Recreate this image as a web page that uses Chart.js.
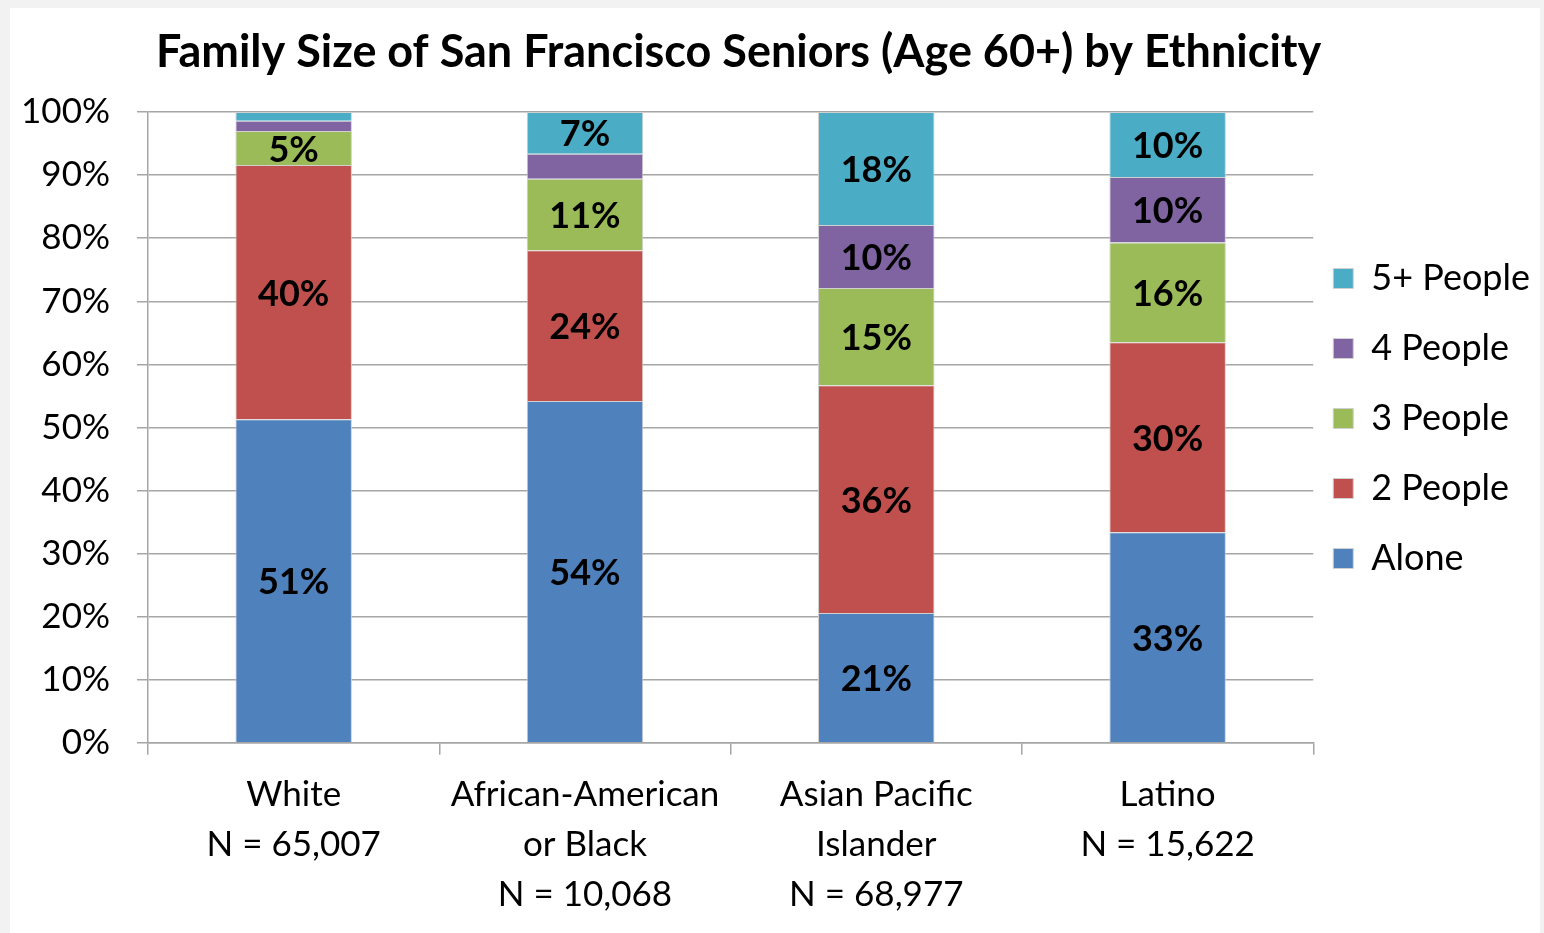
<!DOCTYPE html>
<html>
<head>
<meta charset="utf-8">
<script src="https://cdn.jsdelivr.net/npm/chart.js@4"></script>
<style>
  html, body { margin: 0; padding: 0; background: #f2f2f2; }
  #box { position: absolute; left: 10px; top: 8px; width: 1530px; height: 925px; background: #fff; }
</style>
</head>
<body>
<div id="box"><canvas id="chart" width="1530" height="925"></canvas></div>
<script>
// categories (x axis, multi-line)
const categories = [
  ["White", "N = 65,007"],
  ["African-American", "or Black", "N = 10,068"],
  ["Asian Pacific", "Islander", "N = 68,977"],
  ["Latino", "N = 15,622"]
];

// percentages per family size
const alone       = [51.3, 54.2, 20.6, 33.4];
const twoPeople   = [40.3, 23.9, 36.1, 30.1];
const threePeople = [5.4, 11.3, 15.4, 15.8];
const fourPeople  = [1.6, 4.0, 10.0, 10.4];
const fivePlus    = [1.4, 6.6, 17.9, 10.3];

const seriesNames = ["Alone", "2 People", "3 People", "4 People", "5+ People"];
const seriesColors = ["#4f81bd", "#c0504d", "#9bbb59", "#8064a2", "#4bacc6"];
const yTicks = [0, 10, 20, 30, 40, 50, 60, 70, 80, 90, 100];

const FONT = "Lato";

// draws the rounded % inside each segment (Excel hides the tiny ones)
const segmentLabels = {
  id: "segmentLabels",
  afterDatasetsDraw(chart) {
    const ctx = chart.ctx;
    ctx.save();
    ctx.font = "bold 36px " + FONT;
    ctx.fillStyle = "#000";
    ctx.textAlign = "center";
    ctx.textBaseline = "middle";
    chart.data.datasets.forEach((ds, i) => {
      chart.getDatasetMeta(i).data.forEach((bar, j) => {
        const v = ds.data[j];
        if (v < 5) return;
        ctx.fillText(Math.round(v) + "%", bar.x, (bar.y + bar.base) / 2 + 2);
      });
    });
    ctx.restore();
  }
};

// Excel puts the legend a bit closer to the plot and higher up,
// and the title slightly right of the plot centre
const boxNudge = {
  id: "boxNudge",
  afterLayout(chart) {
    const lg = chart.legend;
    lg.left -= 14; lg.right -= 14;
    lg.top -= 53; lg.bottom -= 53;
    const t = chart.titleBlock;
    t.left += 8; t.right += 8;
  }
};

const allSeries = [alone, twoPeople, threePeople, fourPeople, fivePlus];

new Chart(document.getElementById("chart"), {
  type: "bar",
  data: {
    labels: categories,
    datasets: allSeries.map((d, i) => ({
      label: seriesNames[i],
      data: d,
      backgroundColor: seriesColors[i],
      borderColor: "#d0d0d0",
      borderWidth: 1,
      categoryPercentage: 1,
      barPercentage: 0.4
    }))
  },
  options: {
    responsive: false,
    animation: false,
    layout: { padding: { left: 0, right: -14, top: 0, bottom: -2 } },
    plugins: {
      title: {
        display: true,
        text: "Family Size of San Francisco Seniors (Age 60+) by Ethnicity",
        color: "#000",
        font: { family: FONT, size: 45, weight: "bold" },
        fullSize: false,
        padding: { top: 17, bottom: 33 }
      },
      legend: {
        position: "right",
        reverse: true,
        labels: {
          color: "#000",
          font: { family: FONT, size: 36 },
          boxWidth: 20,
          boxHeight: 20,
          padding: 34
        }
      },
      tooltip: { enabled: false }
    },
    scales: {
      x: {
        stacked: true,
        grid: { drawOnChartArea: false, color: "#a6a6a6", lineWidth: 1.5, tickLength: 12 },
        border: { color: "#a6a6a6", width: 1.5 },
        ticks: {
          color: "#000",
          font: { family: FONT, size: 35, lineHeight: 1.43 },
          maxRotation: 0,
          autoSkip: false,
          padding: 15
        }
      },
      y: {
        stacked: true,
        min: 0,
        max: 100,
        afterBuildTicks: axis => { axis.ticks = yTicks.map(v => ({ value: v })); },
        afterFit: axis => { axis.width = 138; },
        grid: { color: "#a6a6a6", lineWidth: 1.5, tickLength: 11 },
        border: { color: "#a6a6a6", width: 1.5 },
        ticks: {
          color: "#000",
          font: { family: FONT, size: 35 },
          padding: 27,
          callback: v => v + "%"
        }
      }
    }
  },
  plugins: [segmentLabels, boxNudge]
});
</script>
</body>
</html>
